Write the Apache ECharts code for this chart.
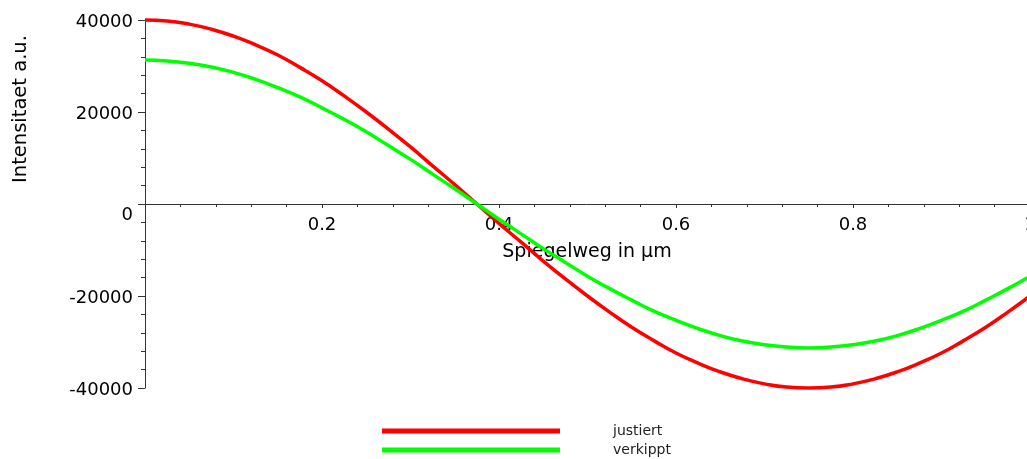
<!DOCTYPE html>
<html>
<head>
<meta charset="utf-8">
<script src="https://cdn.jsdelivr.net/npm/echarts@6/dist/echarts.min.js"></script>
<style>
html,body{margin:0;padding:0;background:#fff;}
#c{width:1027px;height:459px;}
</style>
</head>
<body>
<div id="c"></div>
<script>
// Data
const seriesNames = ['justiert', 'verkippt'];
const xValues = [0, 0.025, 0.05, 0.075, 0.1, 0.125, 0.15, 0.175, 0.2, 0.225, 0.25, 0.275, 0.3, 0.325, 0.35, 0.375,
  0.4, 0.425, 0.45, 0.475, 0.5, 0.525, 0.55, 0.575, 0.6, 0.625, 0.65, 0.675, 0.7, 0.725, 0.75,
  0.775, 0.8, 0.825, 0.85, 0.875, 0.9, 0.925, 0.95, 0.975, 1.0];
const justiert = [40000, 39800, 39100, 38000, 36500, 34600, 32400, 29700, 26800, 23500, 20000, 16300, 12400, 8300, 4200, 0,
  -4200, -8300, -12400, -16300, -20000, -23500, -26800, -29700, -32400, -34600, -36500, -38000, -39100, -39800, -40000,
  -39800, -39100, -38000, -36500, -34600, -32400, -29700, -26800, -23500, -20000];
const verkippt = [31300, 31100, 30600, 29800, 28600, 27100, 25300, 23300, 20900, 18400, 15700, 12700, 9700, 6500, 3300, 0,
  -3300, -6500, -9700, -12700, -15700, -18400, -20900, -23300, -25300, -27100, -28600, -29800, -30600, -31100, -31300,
  -31100, -30600, -29800, -28600, -27100, -25300, -23300, -20900, -18400, -15700];
const xTickLabels = ['0.2', '0.4', '0.6', '0.8', '1'];
const yTickLabels = ['-40000', '-20000', '0', '20000', '40000'];
const xAxisTitle = 'Spiegelweg in µm';
const yAxisTitle = 'Intensitaet a.u.';

const FONT = 'DejaVu Sans';
const pairs = (ys) => xValues.map((x, i) => [x, ys[i]]);

const chart = echarts.init(document.getElementById('c'), null, {renderer: 'canvas'});
chart.setOption({
  animation: false,
  backgroundColor: '#ffffff',
  grid: {left: 145, top: 20, width: 885, height: 368, containLabel: false, outerBoundsMode: 'none'},
  xAxis: {
    type: 'value', min: 0, max: 1, interval: 0.2,
    position: 'bottom', offset: -184,
    axisLine: {onZero: false, lineStyle: {color: '#333', width: 1}},
    axisTick: {show: true, length: 4, lineStyle: {color: '#333'}},
    minorTick: {show: true, splitNumber: 5, length: 3, lineStyle: {color: '#333'}},
    splitLine: {show: false},
    axisLabel: {
      margin: 12, fontFamily: FONT, fontSize: 18, color: '#000',
      formatter: (v) => { const s = String(Math.round(v * 10) / 10); return xTickLabels.indexOf(s) >= 0 ? s : ''; }
    }
  },
  yAxis: {
    type: 'value', min: -40000, max: 40000, interval: 20000,
    axisLine: {show: true, lineStyle: {color: '#333', width: 1}},
    axisTick: {show: true, length: 7, lineStyle: {color: '#333'}},
    minorTick: {show: true, splitNumber: 5, length: 4, lineStyle: {color: '#333'}},
    splitLine: {show: false},
    axisLabel: {
      margin: 12, fontFamily: FONT, fontSize: 18, color: '#000',
      formatter: (v) => { const s = String(v); if (yTickLabels.indexOf(s) < 0) return ''; return v === 0 ? '{z|' + s + '}' : '{n|' + s + '}'; },
      rich: {
        n: {fontFamily: FONT, fontSize: 18, color: '#000', padding: [5, 0, 0, 0]},
        z: {fontFamily: FONT, fontSize: 18, color: '#000', padding: [22, 0, 0, 0]}
      }
    }
  },
  legend: {
    orient: 'vertical', left: 382, top: 424, height: 60, padding: 0,
    data: seriesNames,
    icon: 'rect', itemWidth: 178, itemHeight: 5, itemGap: 5,
    textStyle: {fontFamily: FONT, fontSize: 14, lineHeight: 14, color: '#222', padding: [0, 0, 0, 48]}
  },
  graphic: [{
    type: 'text', x: 21, y: 109, rotation: Math.PI / 2,
    style: {text: yAxisTitle, font: '19.5px "DejaVu Sans"', fill: '#000', textAlign: 'center', textVerticalAlign: 'middle'}
  }, {
    type: 'text', x: 587, y: 252,
    style: {text: xAxisTitle, font: '19px "DejaVu Sans"', fill: '#000', textAlign: 'center', textVerticalAlign: 'middle'}
  }],
  series: [
    {name: seriesNames[0], type: 'line', data: pairs(justiert), smooth: true, showSymbol: false, clip: false,
     lineStyle: {color: '#ff0000', width: 3.5}, itemStyle: {color: '#ff0000'}},
    {name: seriesNames[1], type: 'line', data: pairs(verkippt), smooth: true, showSymbol: false, clip: false,
     lineStyle: {color: '#00ff00', width: 3.5}, itemStyle: {color: '#00ff00'}}
  ]
});
</script>
</body>
</html>
